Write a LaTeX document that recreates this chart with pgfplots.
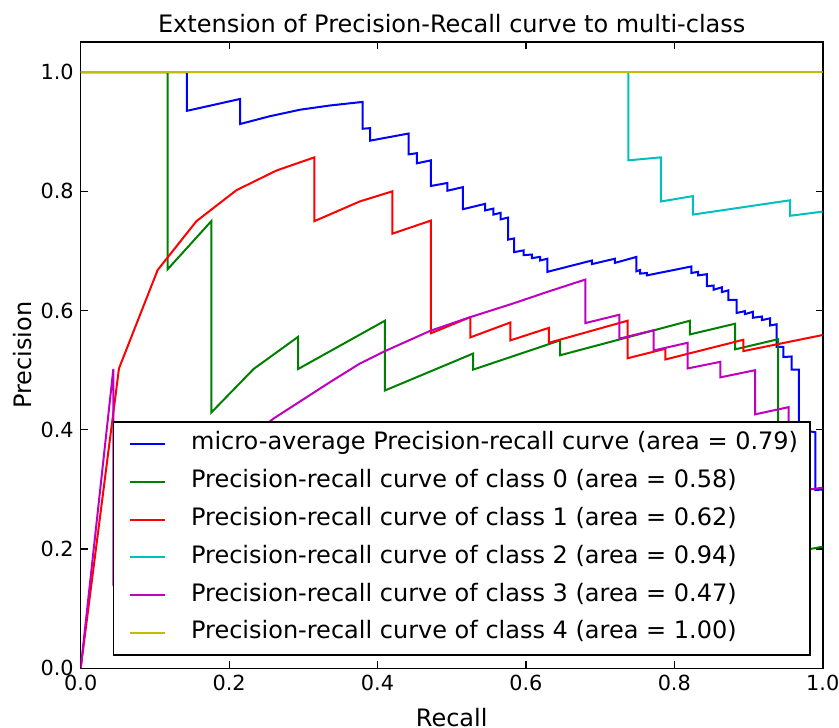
\documentclass[border=0pt]{standalone}
\usepackage{fontspec}
\setmainfont{DejaVu Sans}
\usepackage{pgfplots}
\pgfplotsset{compat=1.18}

\definecolor{mplb}{rgb}{0,0,1}
\definecolor{mplg}{rgb}{0,0.5,0}
\definecolor{mplr}{rgb}{1,0,0}
\definecolor{mplc}{rgb}{0,0.75,0.75}
\definecolor{mplm}{rgb}{0.75,0,0.75}
\definecolor{mply}{rgb}{0.75,0.75,0}

\begin{document}
\begin{tikzpicture}
\begin{axis}[
    scale only axis, width=371pt, height=313pt,
    xmin=0, xmax=1, ymin=0, ymax=1.05,
    xtick={0,0.2,0.4,0.6,0.8,1.0}, ytick={0,0.2,0.4,0.6,0.8,1.0},
    tick pos=both, tick align=inside, major tick length=3.5pt,
    /pgf/number format/assume math mode=true,
    /pgf/number format/.cd, fixed, fixed zerofill, precision=1, /pgfplots/.cd,
    tick label style={font=\fontsize{10.4}{12}\selectfont},
    axis line style={line width=0.8pt},
    every tick/.style={black, line width=0.6pt},
    every axis title shift=0pt,
    title={Extension of Precision-Recall curve to multi-class},
    title style={font=\fontsize{12}{14}\selectfont, at={(rel axis cs:0.5,1.0149)}, anchor=base},
    xlabel={Recall}, ylabel={Precision},
    xlabel style={font=\fontsize{12}{14}\selectfont, at={(rel axis cs:0.5,-0.0927)}, anchor=base},
    ylabel style={font=\fontsize{12}{14}\selectfont, at={(rel axis cs:-0.079,0.5)}, anchor=center},
    every axis plot/.append style={line width=1pt},
    legend image code/.code={\path[draw=none] (0pt,0pt) -- (32.8pt,0pt); \draw[#1] (2pt,0pt) -- (19.5pt,0pt);},
    legend cell align=left,
    legend style={at={(rel axis cs:0.984,0.020)}, anchor=south east,
        draw=black, line width=0.8pt, fill=white, inner xsep=6pt, inner ysep=5pt,
        font=\fontsize{12}{14}\selectfont, row sep=6.9pt,
        nodes={text height=9pt, text depth=3pt, inner sep=0pt}},
]
% micro-average
\addplot[color=mplb] coordinates {
 (0,1) (0.143,1) (0.143,0.935) (0.215,0.955) (0.215,0.913) (0.255,0.926)
 (0.296,0.937) (0.336,0.944) (0.380,0.950) (0.380,0.905) (0.390,0.906)
 (0.390,0.885) (0.442,0.897) (0.442,0.862) (0.453,0.864) (0.453,0.847)
 (0.472,0.852) (0.472,0.809) (0.494,0.814) (0.494,0.801) (0.515,0.807)
 (0.515,0.770) (0.545,0.779) (0.545,0.768) (0.556,0.771) (0.556,0.761)
 (0.566,0.764) (0.566,0.753) (0.576,0.756) (0.576,0.719) (0.584,0.721)
 (0.584,0.698) (0.597,0.701) (0.597,0.693) (0.608,0.694) (0.608,0.688)
 (0.619,0.690) (0.619,0.684) (0.629,0.687) (0.629,0.665) (0.689,0.684)
 (0.689,0.678) (0.720,0.687) (0.720,0.680) (0.749,0.690) (0.749,0.666)
 (0.754,0.668) (0.754,0.662) (0.763,0.663) (0.763,0.659) (0.823,0.674)
 (0.823,0.663) (0.832,0.665) (0.832,0.659) (0.844,0.661) (0.844,0.641)
 (0.853,0.642) (0.853,0.635) (0.864,0.639) (0.864,0.631) (0.873,0.634)
 (0.873,0.618) (0.884,0.618) (0.884,0.596) (0.895,0.599) (0.895,0.594)
 (0.906,0.598) (0.906,0.588) (0.918,0.590) (0.918,0.584) (0.929,0.587)
 (0.929,0.575) (0.938,0.577) (0.938,0.539) (0.947,0.539) (0.947,0.522)
 (0.958,0.523) (0.958,0.501) (0.968,0.501) (0.968,0.400) (0.990,0.396)
 (0.990,0.299) (1.0,0.300)
};
\addlegendentry{micro-average Precision-recall curve (area = 0.79)}
% class 0
\addplot[color=mplg] coordinates {
 (0,1) (0.117,1) (0.117,0.669) (0.176,0.750) (0.176,0.429) (0.233,0.502)
 (0.293,0.556) (0.293,0.502) (0.410,0.583) (0.410,0.466) (0.529,0.528)
 (0.529,0.501) (0.646,0.550) (0.646,0.525) (0.821,0.583) (0.821,0.560)
 (0.882,0.578) (0.882,0.535) (0.940,0.552) (0.940,0.190) (1.0,0.204)
};
\addlegendentry{Precision-recall curve of class 0 (area = 0.58)}
% class 1
\addplot[color=mplr] coordinates {
 (0,0) (0.0516,0.503) (0.1037,0.668) (0.156,0.750) (0.210,0.802)
 (0.264,0.835) (0.315,0.857) (0.315,0.750) (0.376,0.783) (0.420,0.800)
 (0.420,0.729) (0.472,0.751) (0.472,0.562) (0.525,0.589) (0.525,0.555)
 (0.579,0.580) (0.579,0.550) (0.631,0.571) (0.631,0.546) (0.737,0.583)
 (0.737,0.520) (0.788,0.536) (0.788,0.518) (0.893,0.551) (0.893,0.532)
 (1.0,0.559)
};
\addlegendentry{Precision-recall curve of class 1 (area = 0.62)}
% class 2
\addplot[color=mplc] coordinates {
 (0,1) (0.738,1) (0.738,0.852) (0.782,0.857) (0.782,0.783) (0.825,0.792)
 (0.825,0.761) (0.956,0.785) (0.956,0.759) (1.0,0.766)
};
\addlegendentry{Precision-recall curve of class 2 (area = 0.94)}
% class 3
\addplot[color=mplm] coordinates {
 (0,0) (0.044,0.502) (0.044,0.143) (0.080,0.210) (0.120,0.270) (0.170,0.330)
 (0.220,0.380) (0.260,0.419) (0.336,0.480) (0.376,0.511) (0.410,0.532)
 (0.471,0.566) (0.525,0.589) (0.583,0.612) (0.628,0.631) (0.680,0.652)
 (0.680,0.579) (0.726,0.593) (0.726,0.553) (0.772,0.567) (0.772,0.533)
 (0.818,0.546) (0.818,0.503) (0.862,0.514) (0.862,0.488) (0.909,0.500)
 (0.909,0.426) (0.954,0.438) (0.954,0.295) (1.0,0.303)
};
\addlegendentry{Precision-recall curve of class 3 (area = 0.47)}
% class 4
\addplot[color=mply] coordinates {(0,1) (1,1)};
\addlegendentry{Precision-recall curve of class 4 (area = 1.00)}
\coordinate (bl) at (rel axis cs:0,0);
\coordinate (tr) at (rel axis cs:1,1);
\end{axis}
\pgfresetboundingbox
\useasboundingbox ([xshift=-40.35pt,yshift=-29.4pt]bl) rectangle ([xshift=8.15pt,yshift=21.15pt]tr);
\end{tikzpicture}
\end{document}
